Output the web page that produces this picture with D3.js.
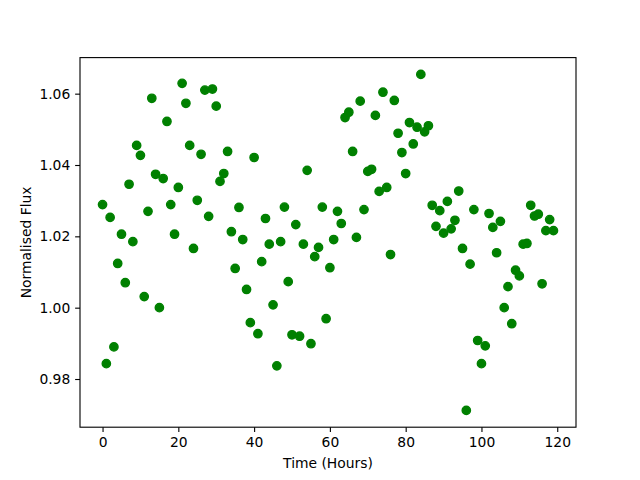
<!DOCTYPE html>
<html>
<head>
<meta charset="utf-8">
<script src="https://cdn.jsdelivr.net/npm/d3@7"></script>
<style>
  html, body { margin: 0; padding: 0; background: #fff; }
  svg text { font-family: "DejaVu Sans", sans-serif; fill: #000; }
</style>
</head>
<body>
<div id="chart"></div>
<script>
// observation times (hours)
const hours = [
  0, 1, 2, 3, 4, 5, 6, 7, 8, 9, 10, 11, 12, 13, 14, 15, 16, 17, 18, 19,
  20, 21, 22, 23, 24, 25, 26, 27, 28, 29, 30, 31, 32, 33, 34, 35, 36, 37, 38, 39,
  40, 41, 42, 43, 44, 45, 46, 47, 48, 49, 50, 51, 52, 53, 54, 55, 56, 57, 58, 59,
  60, 61, 62, 63, 64, 65, 66, 67, 68, 69, 70, 71, 72, 73, 74, 75, 76, 77, 78, 79,
  80, 81, 82, 83, 84, 85, 86, 87, 88, 89, 90, 91, 92, 93, 94, 95, 96, 97, 98, 99,
  100, 101, 102, 103, 104, 105, 106, 107, 108, 109, 110, 111, 112, 113, 114, 115, 116, 117, 118, 119
];

// normalised flux
const flux = [
  1.0289, 0.9843, 1.0253, 0.9890, 1.0124, 1.0206, 1.0070, 1.0346, 1.0185, 1.0455,
  1.0427, 1.0031, 1.0270, 1.0587, 1.0374, 1.0000, 1.0362, 1.0522, 1.0289, 1.0206,
  1.0337, 1.0629, 1.0573, 1.0455, 1.0166, 1.0301, 1.0430, 1.0610, 1.0256, 1.0613,
  1.0565, 1.0354, 1.0376, 1.0438, 1.0213, 1.0110, 1.0281, 1.0191, 1.0051, 0.9958,
  1.0421, 0.9927, 1.0129, 1.0250, 1.0178, 1.0008, 0.9837, 1.0185, 1.0282, 1.0073,
  0.9924, 1.0233, 0.9920, 1.0178, 1.0385, 0.9899, 1.0143, 1.0169, 1.0282, 0.9969,
  1.0112, 1.0191, 1.0270, 1.0236, 1.0533, 1.0548, 1.0438, 1.0197, 1.0579, 1.0275,
  1.0382, 1.0388, 1.0539, 1.0326, 1.0604, 1.0337, 1.0149, 1.0581, 1.0489, 1.0435,
  1.0376, 1.0519, 1.0459, 1.0506, 1.0654, 1.0493, 1.0510, 1.0287, 1.0228, 1.0272,
  1.0209, 1.0298, 1.0221, 1.0245, 1.0327, 1.0166, 0.9712, 1.0122, 1.0275, 0.9908,
  0.9843, 0.9893, 1.0264, 1.0225, 1.0154, 1.0242, 1.0000, 1.0059, 0.9955, 1.0105,
  1.0089, 1.0178, 1.0180, 1.0287, 1.0257, 1.0262, 1.0067, 1.0216, 1.0247, 1.0216
];

const xTicks = [0, 20, 40, 60, 80, 100, 120];
const yTicks = [0.98, 1.00, 1.02, 1.04, 1.06];

const WIDTH = 640;
const HEIGHT = 480;
const MARGIN = { top: 57.6, right: 64, bottom: 52.8, left: 80 };
const PT = 100 / 72;
const COLOR = '#008000';

const innerW = WIDTH - MARGIN.left - MARGIN.right;
const innerH = HEIGHT - MARGIN.top - MARGIN.bottom;

// matplotlib style 5% padding around the data
function padded(values) {
  const lo = d3.min(values);
  const hi = d3.max(values);
  const pad = (hi - lo) * 0.05;
  return [lo - pad, hi + pad];
}

const x = d3.scaleLinear().domain(padded(hours)).range([0, innerW]);
const y = d3.scaleLinear().domain(padded(flux)).range([innerH, 0]);

const svg = d3.select('#chart')
  .append('svg')
  .attr('width', WIDTH)
  .attr('height', HEIGHT);

const g = svg.append('g')
  .attr('transform', `translate(${MARGIN.left},${MARGIN.top})`);

const points = hours.map((h, i) => ({ h, f: flux[i] }));

g.append('g')
  .selectAll('circle')
  .data(points)
  .join('circle')
  .attr('cx', (d) => x(d.h))
  .attr('cy', (d) => y(d.f))
  .attr('r', 3 * PT)
  .attr('fill', COLOR)
  .attr('stroke', COLOR)
  .attr('stroke-width', 1 * PT);

const tickLen = 3.5 * PT;

const xAxis = g.append('g')
  .attr('transform', `translate(0,${innerH})`)
  .call(d3.axisBottom(x).tickValues(xTicks).tickFormat(d3.format('d'))
    .tickSize(tickLen).tickSizeOuter(0).tickPadding(3.5 * PT));

const yAxis = g.append('g')
  .call(d3.axisLeft(y).tickValues(yTicks).tickFormat(d3.format('.2f'))
    .tickSize(tickLen).tickSizeOuter(0).tickPadding(3.5 * PT));

for (const ax of [xAxis, yAxis]) {
  ax.select('.domain').remove();
  ax.selectAll('line').attr('stroke', '#000').attr('stroke-width', 0.8 * PT);
  ax.selectAll('text')
    .attr('font-family', '"DejaVu Sans", sans-serif')
    .attr('font-size', 10 * PT)
    .attr('fill', '#000');
}

// frame
g.append('rect')
  .attr('width', innerW)
  .attr('height', innerH)
  .attr('fill', 'none')
  .attr('stroke', '#000')
  .attr('stroke-width', 0.8 * PT);

svg.append('text')
  .attr('x', MARGIN.left + innerW / 2)
  .attr('y', 468)
  .attr('text-anchor', 'middle')
  .attr('font-size', 10 * PT)
  .text('Time (Hours)');

svg.append('text')
  .attr('transform', `translate(31,${MARGIN.top + innerH / 2}) rotate(-90)`)
  .attr('text-anchor', 'middle')
  .attr('font-size', 10 * PT)
  .text('Normalised Flux');
</script>
</body>
</html>
